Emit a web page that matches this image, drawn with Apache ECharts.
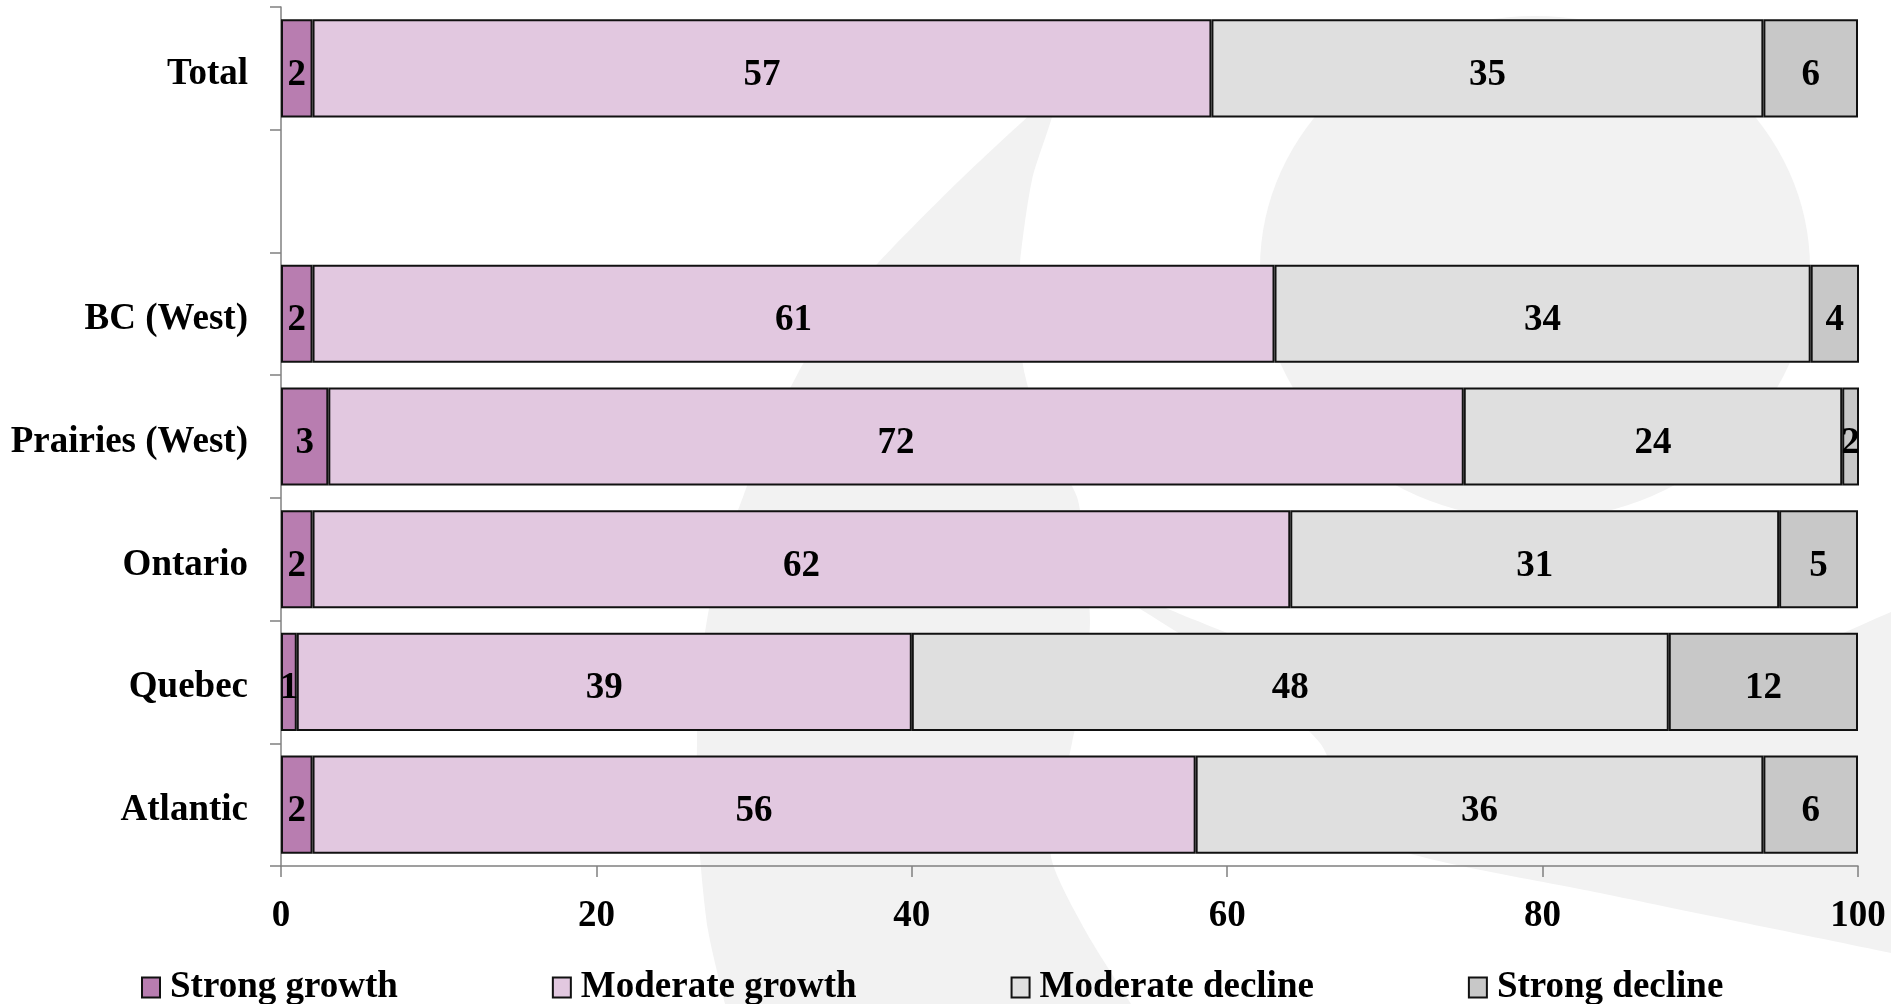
<!DOCTYPE html>
<html>
<head>
<meta charset="utf-8">
<title>Business outlook by region</title>
<script src="https://cdn.jsdelivr.net/npm/echarts@6/dist/echarts.min.js"></script>
<style>
  html, body { margin: 0; padding: 0; background: #ffffff; }
  #chart { width: 1891px; height: 1004px; }
</style>
</head>
<body>
<div id="chart"></div>
<script>
// Regions (top to bottom); the empty entry leaves a gap under the total.
const categories = ['Total', '', 'BC (West)', 'Prairies (West)', 'Ontario', 'Quebec', 'Atlantic'];

// Share of respondents (%) per outlook
const strongGrowth    = [2,  null, 2,  3,  2,  1,  2];
const moderateGrowth  = [57, null, 61, 72, 62, 39, 56];
const moderateDecline = [35, null, 34, 24, 31, 48, 36];
const strongDecline   = [6,  null, 4,  2,  5,  12, 6];

const seriesNames = ['Strong growth', 'Moderate growth', 'Moderate decline', 'Strong decline'];
const seriesColors = ['#B87DB0', '#E2C8E0', '#DFDFDF', '#C8C8C8'];
const xTicks = { min: 0, max: 100, step: 20 };

const FONT = '"Liberation Serif", "Times New Roman", "DejaVu Serif", serif';
const TEXT_SIZE = 37;

function barSeries(name, values, color) {
  return {
    name: name,
    type: 'bar',
    stack: 'share',
    data: values,
    barWidth: '80%',
    clip: true,
    itemStyle: { color: color, borderColor: '#111111', borderWidth: 2 },
    label: {
      show: true,
      position: 'inside',
      offset: [0, 7],
      color: '#000000',
      fontFamily: FONT,
      fontWeight: 'bold',
      fontSize: TEXT_SIZE,
      formatter: p => (p.value == null ? '' : String(p.value))
    },
    emphasis: { disabled: true }
  };
}

// Pale backdrop emblem behind the plot
const swooshPoints = [
  [1052, 95], [960, 180], [878, 263], [830, 320], [797, 375], [765, 440],
  [743, 497], [720, 560], [707, 620], [699, 680], [697, 743], [697, 800],
  [700, 857], [708, 930], [725, 1004], [728, 1012],
  [1135, 1012], [1131, 1004], [1085, 930], [1051, 857], [1060, 800],
  [1072, 743], [1085, 680], [1090, 620], [1085, 560], [1077, 497],
  [1045, 440], [1025, 375], [1018, 320], [1020, 263], [1032, 180],
  [1052, 117], [1056, 95]
];
const wingPoints = [
  [1085, 575], [1195, 620], [1300, 660], [1450, 690], [1600, 692],
  [1750, 670], [1891, 612], [1900, 606], [1900, 956], [1891, 953],
  [1600, 893], [1385, 846], [1345, 800], [1320, 743], [1250, 680],
  [1150, 615]
];

const chart = echarts.init(document.getElementById('chart'), null, { renderer: 'canvas' });

chart.setOption({
  backgroundColor: '#ffffff',
  animation: false,
  textStyle: { fontFamily: FONT },
  graphic: {
    elements: [
      { type: 'polygon', silent: true, z: -10,
        shape: { points: swooshPoints, smooth: 0.25 }, style: { fill: '#F2F2F2' } },
      { type: 'polygon', silent: true, z: -10,
        shape: { points: wingPoints, smooth: 0.25 }, style: { fill: '#F2F2F2' } },
      { type: 'circle', silent: true, z: -10, x: 1535, y: 268, scaleY: 252 / 275,
        shape: { cx: 0, cy: 0, r: 275 }, style: { fill: '#F2F2F2' } }
    ]
  },
  grid: { left: 281, right: 33, top: 7, bottom: 138, containLabel: false },
  legend: {
    data: seriesNames,
    left: 136,
    top: 964,
    itemWidth: 18,
    itemHeight: 20,
    itemGap: 154,
    icon: 'rect',
    itemStyle: { borderColor: '#111111', borderWidth: 2 },
    textStyle: { fontFamily: FONT, fontWeight: 'bold', fontSize: TEXT_SIZE, color: '#000000', padding: [0, 0, 0, 5] },
    selectedMode: false
  },
  xAxis: {
    type: 'value',
    min: xTicks.min,
    max: xTicks.max,
    interval: xTicks.step,
    axisLine: { show: true, lineStyle: { color: '#808080', width: 1.5 } },
    axisTick: { show: true, length: 11, lineStyle: { color: '#808080', width: 1.5 } },
    splitLine: { show: false },
    axisLabel: {
      margin: 32,
      color: '#000000',
      fontFamily: FONT,
      fontWeight: 'bold',
      fontSize: TEXT_SIZE
    }
  },
  yAxis: {
    type: 'category',
    data: categories,
    inverse: true,
    axisLine: { show: true, lineStyle: { color: '#808080', width: 1.5 } },
    axisTick: { show: true, length: 11, interval: 0, lineStyle: { color: '#808080', width: 1.5 } },
    axisLabel: {
      margin: 33,
      interval: 0,
      formatter: v => (v ? '{name|' + v + '}' : ''),
      rich: {
        name: {
          padding: [12, 0, 0, 0],
          color: '#000000',
          fontFamily: FONT,
          fontWeight: 'bold',
          fontSize: TEXT_SIZE
        }
      }
    }
  },
  series: [
    barSeries(seriesNames[0], strongGrowth, seriesColors[0]),
    barSeries(seriesNames[1], moderateGrowth, seriesColors[1]),
    barSeries(seriesNames[2], moderateDecline, seriesColors[2]),
    barSeries(seriesNames[3], strongDecline, seriesColors[3])
  ]
});
</script>
</body>
</html>
